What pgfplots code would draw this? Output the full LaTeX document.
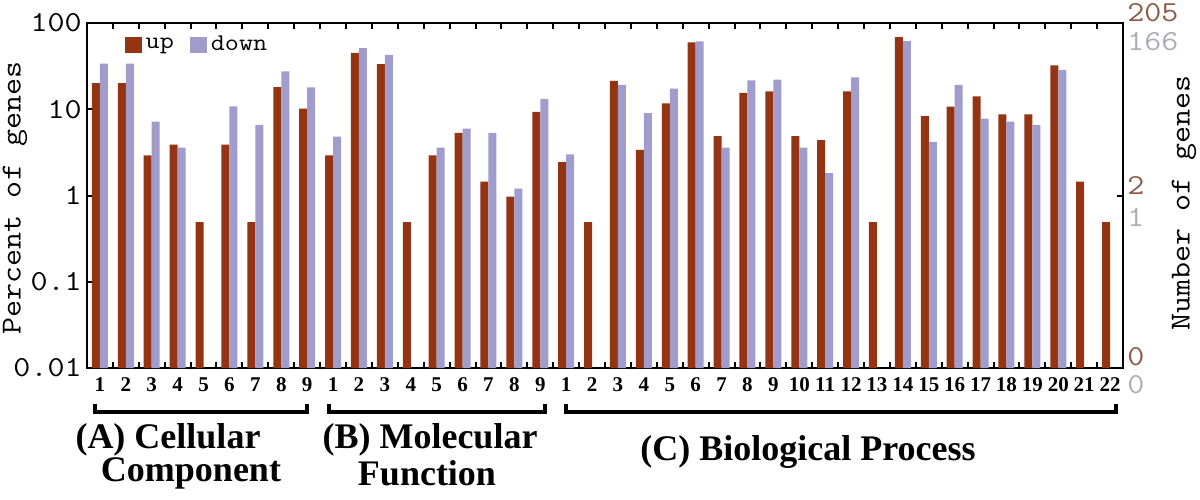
\documentclass[border=0pt]{standalone}
\usepackage{pgfplots}
\pgfplotsset{compat=1.18}
\usepackage{fontspec}
\setmainfont{Liberation Serif}
\setmonofont{Latin Modern Mono}[FakeStretch=1.14]
\definecolor{upc}{RGB}{148,52,18}
\definecolor{downc}{RGB}{160,156,204}
\definecolor{brownt}{RGB}{140,90,70}
\definecolor{grayt}{RGB}{172,172,182}
\begin{document}
\begin{tikzpicture}
\useasboundingbox (-43.5pt,-65.5pt) rectangle (556.5pt,184pt);
\begin{axis}[
  at={(0pt,0pt)}, anchor=south west,
  scale only axis, width=518pt, height=172.5pt,
  ymode=log, ymin=0.01, ymax=100, log origin y=infty,
  xmin=-0.5, xmax=39.5,
  ybar, bar width=4pt,
  axis line style={line width=1pt},
  tick align=inside,
  major tick length=3pt, minor tick length=3pt,
  ytick={0.01,0.1,1,10,100},
  yticklabels={0.01,0.1,1,10,100},
  ytick pos=left,
  yminorticks=false,
  yticklabel style={font=\fontsize{14.5}{14.5}\selectfont\ttfamily, inner sep=2.5pt},
  y tick style={line width=1pt, black},
  xtick={0,...,39},
  xticklabels={1,2,3,4,5,6,7,8,9,1,2,3,4,5,6,7,8,9,1,2,3,4,5,6,7,8,9,10,11,12,13,14,15,16,17,18,19,20,21,22},
  major x tick style={draw=none},
  minor xtick={-0.5,0.5,...,39.5},
  minor x tick style={line width=1pt, black},
  xtick pos=both,
  xticklabel pos=lower,
  xticklabel style={font=\fontsize{10.5}{10.5}\selectfont\bfseries, anchor=center, yshift=-8.5pt, inner sep=0pt},
  legend style={at={(axis description cs:0.036,0.936)}, anchor=west, draw=none, fill=none,
    inner sep=0pt, font=\fontsize{12}{12}\selectfont\ttfamily,
    /tikz/every even column/.append style={column sep=6pt}},
  legend columns=2,
  legend image code/.code={\fill[#1] (0pt,-4pt) rectangle (8.5pt,4pt);},
  clip=false,
]
\addplot[fill=upc, draw=none, bar shift=-2pt] coordinates {
(0,20.1) (1,20.1) (2,2.91) (3,3.88) (4,0.49) (5,3.88) (6,0.49) (7,18.1) (8,10.2)
(9,2.91) (10,44.9) (11,33.4) (12,0.49) (13,2.91) (14,5.34) (15,1.45) (16,0.97) (17,9.3)
(18,2.44) (19,0.49) (20,21.4) (21,3.39) (22,11.7) (23,59.5) (24,4.89) (25,15.5) (26,16.1)
(27,4.89) (28,4.39) (29,16.1) (30,0.49) (31,68.8) (32,8.34) (33,10.7) (34,14.1) (35,8.7)
(36,8.7) (37,32.2) (38,1.45) (39,0.49)
};
\addplot[fill=downc, draw=none, bar shift=2pt] coordinates {
(0,33.7) (1,33.7) (2,7.2) (3,3.6) (5,10.8) (6,6.6) (7,27.5) (8,17.9)
(9,4.8) (10,51.3) (11,42.6) (13,3.6) (14,5.98) (15,5.34) (16,1.2) (17,13.1)
(18,2.99) (20,19.2) (21,9.0) (22,17.4) (23,61.2) (24,3.6) (25,21.6) (26,22.0)
(27,3.6) (28,1.82) (29,23.4) (31,61.8) (32,4.2) (33,19.2) (34,7.8) (35,7.2)
(36,6.6) (37,28.7)
};
\legend{up,down}
\draw[line width=1pt] (rel axis cs:1,0.5) -- ++(-3pt,0pt);
\end{axis}
% axis titles
\node[rotate=90, inner sep=0pt, font=\fontsize{14.5}{14.5}\selectfont\ttfamily] at (-36pt,85pt) {Percent of genes};
\node[rotate=90, inner sep=0pt, font=\fontsize{14.5}{14.5}\selectfont\ttfamily] at (548.5pt,82.5pt) {Number of genes};
% right-side count labels
\begin{scope}[font=\fontsize{14.5}{14.5}\selectfont\ttfamily, inner sep=0pt]
\node[text=brownt, anchor=west] at (520pt,177.5pt) {205};
\node[text=grayt, anchor=west] at (520pt,163pt) {166};
\node[text=brownt, anchor=west] at (520pt,91.5pt) {2};
\node[text=grayt, anchor=west] at (520pt,75.5pt) {1};
\node[text=brownt, anchor=west] at (520pt,5.5pt) {0};
\node[text=grayt, anchor=west] at (520pt,-8.5pt) {0};
\end{scope}
% brackets
\draw[line width=2pt] (4pt,-18pt) -- (4pt,-22pt) -- (110pt,-22pt) -- (110pt,-18pt);
\draw[line width=2pt] (121pt,-18pt) -- (121pt,-22pt) -- (229pt,-22pt) -- (229pt,-18pt);
\draw[line width=2pt] (239.5pt,-18pt) -- (239.5pt,-22pt) -- (514.5pt,-22pt) -- (514.5pt,-18pt);
% group names
\begin{scope}[font=\fontsize{18}{18}\selectfont\bfseries, inner sep=0pt]
\node at (40.5pt,-36pt) {(A) Cellular};
\node at (52pt,-52.5pt) {Component};
\node at (171.5pt,-36pt) {(B) Molecular};
\node at (170pt,-52.5pt) {Function};
\node at (360.5pt,-42pt) {(C) Biological Process};
\end{scope}
\end{tikzpicture}
\end{document}
